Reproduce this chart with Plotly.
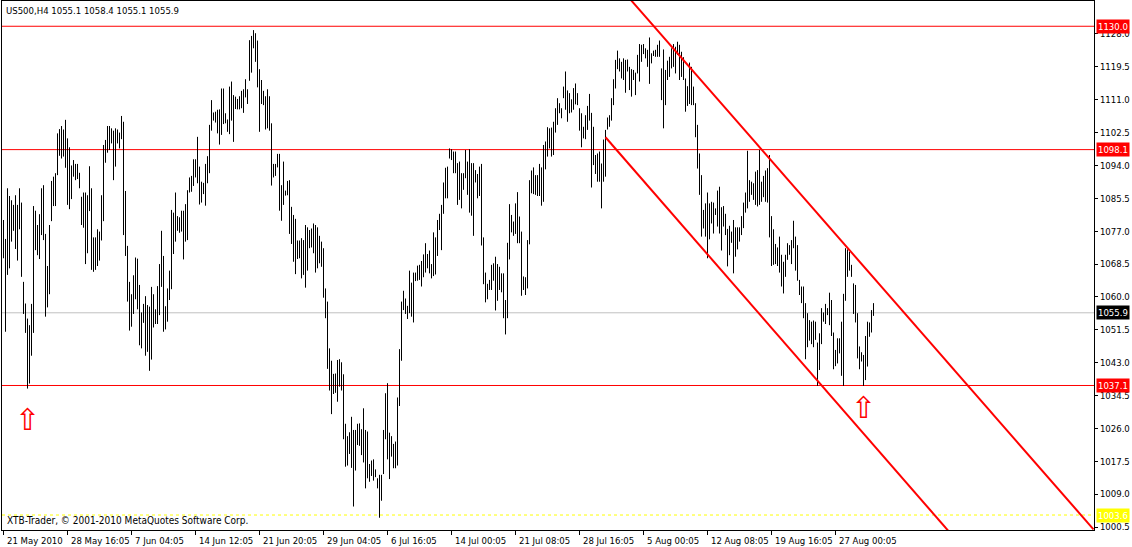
import plotly.graph_objects as go

# ---------------- data ----------------
symbol = "US500,H4"
last_ohlc = [1055.1, 1058.4, 1055.1, 1055.9]

highs = [
    1079.9, 1075.0, 1088.1, 1086.1, 1085.0, 1083.8, 1086.3, 1083.8, 1088.1, 1084.4,
    1063.9, 1058.3, 1054.4, 1052.7, 1058.2, 1083.5, 1082.3, 1078.6, 1081.4, 1088.1,
    1088.9, 1076.3, 1068.0, 1078.6, 1090.0, 1091.1, 1092.0, 1102.3, 1103.4, 1104.2,
    1103.3, 1105.8, 1101.0, 1098.7, 1094.0, 1095.4, 1094.4, 1094.4, 1092.1, 1085.9,
    1087.0, 1087.0, 1086.3, 1093.8, 1088.1, 1075.4, 1075.4, 1077.5, 1076.9, 1086.3,
    1099.3, 1100.6, 1104.2, 1104.2, 1103.6, 1103.0, 1103.6, 1103.3, 1102.5, 1106.8,
    1105.3, 1087.4, 1073.2, 1063.9, 1060.7, 1065.6, 1070.2, 1069.9, 1063.1, 1056.0,
    1058.2, 1060.2, 1057.9, 1057.5, 1062.6, 1060.7, 1056.8, 1062.8, 1068.5, 1077.1,
    1070.6, 1057.6, 1062.2, 1066.8, 1082.5, 1081.8, 1087.0, 1080.9, 1080.6, 1082.3,
    1082.3, 1084.0, 1087.6, 1090.9, 1091.3, 1095.6, 1095.6, 1101.4, 1093.7, 1089.8,
    1089.5, 1094.4, 1096.4, 1104.5, 1110.9, 1107.7, 1107.9, 1108.4, 1108.5, 1113.9,
    1113.9, 1107.5, 1105.9, 1114.4, 1115.7, 1112.2, 1111.8, 1111.2, 1111.9, 1113.3,
    1113.7, 1116.3, 1113.7, 1126.4, 1127.5, 1129.0, 1128.2, 1126.3, 1118.9, 1116.1,
    1113.3, 1111.9, 1113.7, 1111.9, 1104.9, 1094.4, 1094.4, 1097.0, 1097.0, 1088.9,
    1095.0, 1087.5, 1090.0, 1090.2, 1083.3, 1081.2, 1080.2, 1074.6, 1074.6, 1075.2,
    1074.7, 1078.6, 1078.0, 1077.3, 1077.7, 1079.0, 1078.6, 1078.0, 1075.8, 1074.3,
    1072.6, 1062.2, 1058.8, 1046.7, 1043.5, 1040.1, 1040.2, 1043.7, 1043.9, 1043.1,
    1040.0, 1027.2, 1024.0, 1025.0, 1029.0, 1025.6, 1025.6, 1027.2, 1027.3, 1025.8,
    1031.2, 1025.6, 1025.2, 1016.8, 1017.7, 1018.0, 1015.4, 1013.1, 1014.0, 1014.0,
    1025.6, 1035.1, 1037.7, 1024.9, 1024.0, 1022.0, 1022.6, 1034.0, 1046.5, 1058.8,
    1061.6, 1059.6, 1057.7, 1066.8, 1063.7, 1066.3, 1066.3, 1068.1, 1068.3, 1069.3,
    1071.0, 1073.9, 1071.1, 1072.0, 1068.5, 1076.7, 1075.4, 1079.9, 1081.5, 1083.8,
    1089.6, 1093.4, 1093.7, 1098.4, 1098.2, 1097.6, 1097.6, 1094.6, 1095.0, 1092.0,
    1092.0, 1098.0, 1095.0, 1098.2, 1094.6, 1094.6, 1092.8, 1091.8, 1093.7, 1094.4,
    1075.4, 1066.3, 1063.4, 1064.4, 1068.3, 1068.7, 1070.4, 1068.5, 1067.8, 1066.1,
    1066.1, 1059.2, 1074.0, 1084.0, 1081.2, 1079.5, 1084.2, 1087.1, 1080.8, 1076.9,
    1065.3, 1065.1, 1074.7, 1090.2, 1092.7, 1093.5, 1091.5, 1091.5, 1094.4, 1093.5,
    1099.3, 1100.2, 1103.9, 1103.6, 1103.8, 1105.3, 1108.8, 1111.4, 1110.1, 1108.8,
    1114.4, 1118.3, 1113.4, 1112.7, 1111.1, 1114.0, 1115.2, 1112.7, 1108.8, 1107.5,
    1104.0, 1107.0, 1109.4, 1112.5, 1107.6, 1104.0, 1096.7, 1097.1, 1097.6, 1094.5,
    1100.7, 1103.2, 1106.4, 1107.0, 1111.4, 1116.3, 1121.3, 1123.7, 1121.7, 1120.8,
    1121.7, 1121.3, 1121.4, 1119.5, 1118.9, 1118.7, 1118.0, 1122.6, 1125.4, 1125.2,
    1125.4, 1124.3, 1123.9, 1127.1, 1123.0, 1123.7, 1123.9, 1125.2, 1126.3, 1119.1,
    1124.0, 1118.7, 1121.1, 1122.1, 1124.3, 1125.4, 1124.7, 1126.0, 1125.2, 1123.4,
    1122.0, 1116.5, 1114.5, 1120.6, 1119.5, 1114.4, 1110.1, 1104.5, 1097.1, 1091.5,
    1082.5, 1084.2, 1087.0, 1084.2, 1084.6, 1084.4, 1082.9, 1087.5, 1088.5, 1083.2,
    1083.5, 1081.5, 1077.6, 1078.4, 1076.9, 1079.9, 1078.0, 1078.0, 1078.0, 1080.9,
    1084.4, 1087.0, 1097.8, 1090.2, 1089.8, 1089.4, 1092.4, 1092.8, 1098.0, 1089.8,
    1091.3, 1092.7, 1093.3, 1096.7, 1080.9, 1077.5, 1073.7, 1072.8, 1075.6, 1070.9,
    1069.1, 1070.9, 1073.9, 1073.4, 1074.7, 1079.7, 1075.6, 1073.4, 1064.4, 1062.7,
    1062.7, 1058.4, 1055.8, 1054.0, 1053.6, 1053.9, 1053.6, 1048.2, 1050.6, 1057.1,
    1056.0, 1058.2, 1057.1, 1061.1, 1059.2, 1050.8, 1046.3, 1049.3, 1049.3, 1053.6,
    1060.8, 1072.6, 1072.3, 1071.7, 1068.3, 1063.5, 1063.1, 1055.8, 1047.2, 1045.7,
    1045.0, 1049.9, 1053.6, 1053.4, 1056.6, 1058.4,
]

lows = [
    1070.0, 1051.0, 1065.7, 1067.4, 1074.3, 1077.1, 1072.4, 1069.4, 1077.5, 1065.2,
    1055.6, 1050.7, 1036.3, 1037.6, 1044.8, 1050.7, 1072.1, 1070.8, 1069.8, 1076.0,
    1074.7, 1054.9, 1057.3, 1060.7, 1079.6, 1083.5, 1083.5, 1091.5, 1096.5, 1095.8,
    1096.3, 1093.4, 1083.8, 1082.7, 1085.3, 1091.1, 1090.2, 1090.5, 1088.1, 1078.6,
    1077.9, 1068.5, 1071.3, 1082.2, 1067.0, 1066.5, 1067.0, 1068.0, 1069.4, 1074.6,
    1079.6, 1094.7, 1097.3, 1098.0, 1099.7, 1090.2, 1093.7, 1099.7, 1098.4, 1100.8,
    1076.0, 1070.6, 1058.8, 1051.3, 1052.3, 1055.6, 1059.4, 1056.8, 1047.5, 1046.7,
    1053.3, 1044.8, 1045.8, 1040.9, 1043.8, 1052.1, 1053.0, 1053.0, 1055.3, 1062.6,
    1051.0, 1051.6, 1053.6, 1059.2, 1062.0, 1071.1, 1074.3, 1077.1, 1076.6, 1076.9,
    1069.7, 1074.3, 1074.7, 1087.0, 1087.2, 1088.7, 1090.9, 1089.4, 1083.9, 1084.4,
    1086.6, 1083.6, 1089.4, 1092.0, 1103.0, 1105.6, 1105.1, 1102.3, 1099.4, 1101.9,
    1104.7, 1104.9, 1102.7, 1102.1, 1105.6, 1100.1, 1108.6, 1108.5, 1108.5, 1108.8,
    1107.6, 1111.6, 1109.9, 1115.9, 1118.0, 1124.3, 1120.8, 1114.2, 1102.7, 1109.9,
    1109.6, 1103.3, 1103.6, 1103.0, 1088.8, 1090.9, 1091.3, 1093.5, 1082.3, 1079.7,
    1083.8, 1086.2, 1086.3, 1076.3, 1073.7, 1069.1, 1065.9, 1069.8, 1070.0, 1064.8,
    1065.7, 1062.4, 1066.8, 1072.6, 1072.8, 1071.3, 1066.3, 1067.4, 1068.7, 1067.8,
    1059.8, 1054.5, 1041.4, 1035.8, 1029.7, 1034.9, 1035.2, 1032.9, 1036.8, 1035.8,
    1023.2, 1016.1, 1016.4, 1019.4, 1015.8, 1005.8, 1015.1, 1021.7, 1021.5, 1019.1,
    1017.2, 1010.5, 1013.1, 1012.2, 1013.7, 1012.5, 1013.4, 1010.5, 1002.9, 1007.3,
    1014.2, 1023.2, 1018.0, 1012.9, 1018.7, 1015.7, 1015.7, 1016.4, 1031.8, 1043.5,
    1056.6, 1055.6, 1054.3, 1055.8, 1054.9, 1053.4, 1064.1, 1064.2, 1064.4, 1062.7,
    1065.1, 1066.3, 1067.4, 1066.1, 1064.8, 1065.4, 1065.8, 1070.6, 1077.3, 1072.1,
    1081.5, 1085.5, 1085.5, 1095.8, 1095.4, 1092.0, 1092.0, 1083.8, 1085.1, 1082.9,
    1087.7, 1090.7, 1086.4, 1081.8, 1081.0, 1075.8, 1089.6, 1085.5, 1086.1, 1073.3,
    1063.3, 1058.6, 1059.4, 1061.8, 1061.8, 1064.2, 1056.5, 1059.0, 1061.8, 1061.2,
    1054.5, 1050.3, 1054.5, 1069.7, 1076.7, 1075.8, 1076.3, 1073.9, 1073.9, 1060.3,
    1061.8, 1060.5, 1062.2, 1073.6, 1086.8, 1086.6, 1086.4, 1086.1, 1086.1, 1083.6,
    1084.6, 1093.0, 1096.3, 1098.4, 1096.3, 1096.7, 1102.5, 1104.5, 1107.5, 1106.2,
    1111.4, 1108.4, 1105.3, 1107.5, 1107.7, 1108.4, 1109.8, 1109.6, 1103.0, 1098.7,
    1101.0, 1100.8, 1103.2, 1105.6, 1088.3, 1094.1, 1091.8, 1089.8, 1089.8, 1082.9,
    1089.8, 1091.1, 1103.3, 1104.0, 1105.6, 1109.6, 1113.9, 1118.9, 1118.3, 1116.5,
    1116.1, 1112.8, 1118.3, 1113.5, 1111.8, 1116.1, 1112.2, 1117.8, 1115.7, 1120.8,
    1122.8, 1121.7, 1119.5, 1115.1, 1120.4, 1122.3, 1122.1, 1122.1, 1122.1, 1110.9,
    1103.6, 1109.6, 1116.1, 1116.9, 1119.1, 1119.5, 1117.8, 1122.6, 1116.1, 1116.9,
    1116.1, 1107.9, 1109.4, 1109.9, 1109.6, 1109.6, 1101.3, 1093.2, 1086.4, 1075.6,
    1077.7, 1075.6, 1070.0, 1074.9, 1079.0, 1076.4, 1081.2, 1078.2, 1076.4, 1072.0,
    1078.2, 1076.0, 1067.9, 1070.8, 1074.0, 1066.1, 1070.4, 1072.3, 1074.3, 1076.0,
    1077.8, 1081.8, 1082.9, 1084.6, 1086.4, 1085.1, 1083.8, 1083.4, 1083.8, 1084.6,
    1085.8, 1084.6, 1084.4, 1075.4, 1068.0, 1068.3, 1068.5, 1068.0, 1066.3, 1062.7,
    1060.9, 1065.2, 1069.6, 1070.9, 1068.5, 1072.6, 1066.8, 1064.2, 1060.5, 1058.4,
    1054.5, 1043.9, 1047.0, 1048.7, 1047.8, 1047.0, 1048.9, 1037.0, 1041.1, 1047.8,
    1053.6, 1053.0, 1055.3, 1052.7, 1049.9, 1041.3, 1042.1, 1042.8, 1045.4, 1039.6,
    1037.0, 1059.0, 1065.2, 1066.8, 1065.2, 1055.6, 1053.4, 1044.1, 1041.3, 1043.3,
    1037.0, 1038.5, 1042.0, 1049.7, 1050.8, 1055.1,
]

date_tick_bars = [0, 32, 64, 96, 128, 160, 192, 224, 256, 288, 320, 352, 384, 416]
date_tick_labels = [
    "21 May 2010", "28 May 16:05", "7 Jun 04:05", "14 Jun 12:05", "21 Jun 20:05",
    "29 Jun 04:05", "6 Jul 16:05", "14 Jul 00:05", "21 Jul 08:05", "28 Jul 16:05",
    "5 Aug 00:05", "12 Aug 08:05", "19 Aug 16:05", "27 Aug 00:05",
]
price_ticks = [1128.0, 1119.5, 1111.0, 1102.5, 1094.0, 1085.5, 1077.0, 1068.5,
               1060.0, 1051.5, 1043.0, 1034.5, 1026.0, 1017.5, 1009.0, 1000.5]

red_levels = [1130.0, 1098.1, 1037.1]
bid_price = 1055.9
yellow_level = 1003.6

channel_bars = [301, 545]
channel_upper = [1144.3, 999.9]
channel_lower = [1101.3, 956.4]

arrow_bars = [12, 430]
arrow_prices = [1028.2, 1031.3]

copyright_text = "XTB-Trader, © 2001-2010 MetaQuotes Software Corp."

# ---------------- figure ----------------
FONT = "DejaVu Sans Condensed, DejaVu Sans, sans-serif"
FS = 9.5
W, H = 1132, 547
X_RANGE = [-0.75, 545.25]
Y_RANGE = [999.73, 1136.53]

bx, by = [], []
for i, (h, l) in enumerate(zip(highs, lows)):
    bx += [i, i, None]
    by += [l, h, None]

fig = go.Figure()
# horizontal levels drawn as full-width line traces (under the bars)
full_x = list(X_RANGE)
for lv in red_levels:
    fig.add_trace(go.Scatter(x=full_x, y=[lv, lv], mode="lines",
                             line=dict(color="#FF0000", width=1),
                             hoverinfo="skip", showlegend=False))
fig.add_trace(go.Scatter(x=full_x, y=[bid_price, bid_price], mode="lines",
                         line=dict(color="#C0C0C0", width=1),
                         hoverinfo="skip", showlegend=False))
fig.add_trace(go.Scatter(x=full_x, y=[yellow_level, yellow_level], mode="lines",
                         line=dict(color="#FFFF00", width=1, dash="3px,3px"),
                         hoverinfo="skip", showlegend=False))
fig.add_trace(go.Scatter(x=bx, y=by, mode="lines",
                         line=dict(color="black", width=1),
                         hoverinfo="skip", showlegend=False))
for ys in (channel_upper, channel_lower):
    fig.add_trace(go.Scatter(x=channel_bars, y=ys, mode="lines",
                             line=dict(color="#FF0000", width=2),
                             hoverinfo="skip", showlegend=False))

annotations = []
for b, t in zip(date_tick_bars, date_tick_labels):
    annotations.append(dict(x=b, xref="x", y=0, yref="paper", yshift=-3,
                            text=t, showarrow=False, xanchor="left", yanchor="top",
                            xshift=1, font=dict(family=FONT, size=FS, color="black")))
boxes = [(lv, "#FF0000") for lv in red_levels] + [(bid_price, "#000000"), (yellow_level, "#FFFF00")]
for lv, col in boxes:
    annotations.append(dict(x=1, xref="paper", y=lv, yref="y", xanchor="left", yanchor="middle",
                            xshift=2, text=f"{lv:.1f}", showarrow=False, bgcolor=col,
                            borderpad=1, font=dict(family=FONT, size=FS, color="white")))
header = symbol + " " + " ".join(f"{v:.1f}" for v in last_ohlc)
annotations.append(dict(x=0, xref="paper", y=1, yref="paper", xanchor="left", yanchor="top",
                        xshift=2, yshift=-2, text=header, showarrow=False,
                        font=dict(family=FONT, size=FS, color="black")))
annotations.append(dict(x=0, xref="paper", y=0, yref="paper", xanchor="left", yanchor="bottom",
                        xshift=3, yshift=2, text=copyright_text, showarrow=False,
                        font=dict(family=FONT, size=10, color="black")))
for b, p in zip(arrow_bars, arrow_prices):
    annotations.append(dict(x=b, xref="x", y=p, yref="y", text="⇧", showarrow=False,
                            xanchor="center", yanchor="middle",
                            font=dict(family="DejaVu Sans", size=30, color="#FF0000")))

fig.update_layout(
    width=W, height=H,
    margin=dict(l=2, r=38, t=1, b=17, pad=0),
    paper_bgcolor="white", plot_bgcolor="white",
    annotations=annotations,
    showlegend=False,
    xaxis=dict(range=X_RANGE, showgrid=False, zeroline=False,
               tickvals=date_tick_bars, showticklabels=False,
               ticks="outside", ticklen=4, tickcolor="black", tickwidth=1,
               showline=True, linecolor="black", linewidth=1, mirror=True,
               fixedrange=True, automargin=False),
    yaxis=dict(range=Y_RANGE, side="right", showgrid=False, zeroline=False,
               tickvals=price_ticks, ticktext=[f"{v:.1f}" for v in price_ticks],
               ticks="outside", ticklen=3, tickcolor="black", tickwidth=1,
               tickfont=dict(family=FONT, size=FS, color="black"),
               showline=True, linecolor="black", linewidth=1, mirror=True,
               fixedrange=True, automargin=False),
)

post = "document.body.style.margin='0';document.body.style.overflow='hidden';"
fig.write_html("out.html", config={"displayModeBar": False}, post_script=post)
